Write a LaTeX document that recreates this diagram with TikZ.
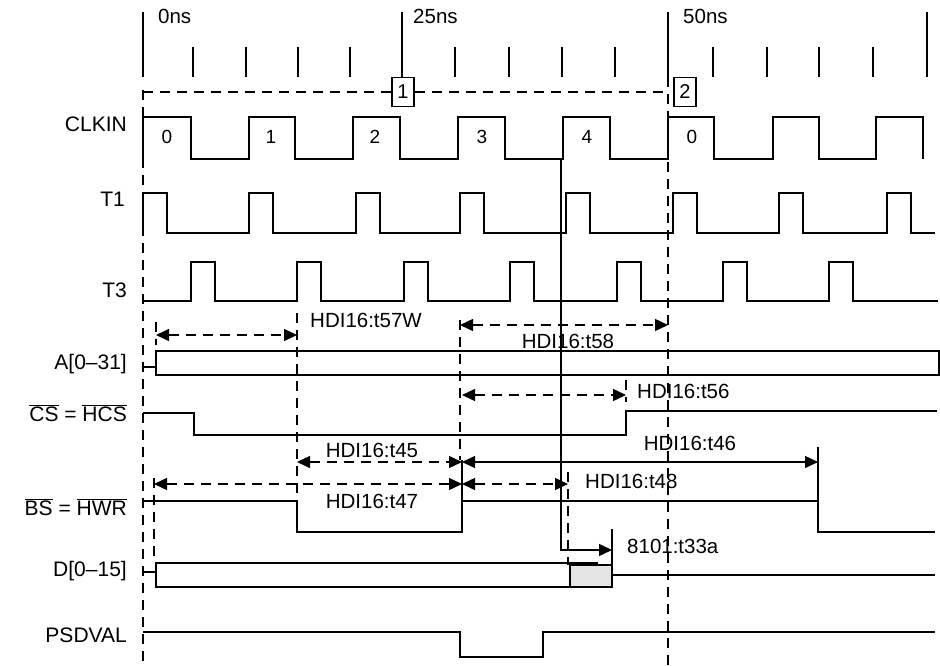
\documentclass[tikz,border=0pt]{standalone}
\usepackage{fontspec}
\setmainfont{Liberation Sans}
\usetikzlibrary{arrows.meta}
\newcommand{\ovl}[1]{$\overline{\mbox{#1}}$}

\begin{document}
\begin{tikzpicture}[x=1pt, y=-1pt,
			sig/.style={line width=1.4pt},
			guide/.style={line width=1.4pt, dash pattern=on 10pt off 7pt},
			tmarr/.style={guide, {Triangle[length=13pt, width=12pt]}-{Triangle[length=13pt, width=12pt]}},
			solarr/.style={sig, {Triangle[length=13pt, width=12pt]}-{Triangle[length=13pt, width=12pt]}},
			lbl/.style={anchor=base east, inner sep=0pt, font=\fontsize{21}{25}\selectfont},
			tlbl/.style={anchor=base, inner sep=0pt, font=\fontsize{20.5}{24}\selectfont},
			clknum/.style={anchor=base, inner sep=0pt, font=\fontsize{19}{22}\selectfont},
			marker/.style={draw, line width=1.4pt, fill=white, inner sep=0pt, minimum width=22pt, minimum height=29pt, font=\fontsize{20}{24}\selectfont}]
			\useasboundingbox (0,0) rectangle (940,665);
			% time ruler
			\foreach \x in {143,402,668,927} \draw[sig] (\x,12) -- (\x,77);
			\foreach \x in {193,246,298,350,455,509,562,615,713,767,819,873} \draw[sig] (\x,47) -- (\x,77);
			\node[tlbl, anchor=base west] (ns0) at (158,23) {0ns};
			\node[tlbl, anchor=base west] (ns25) at (413,23) {25ns};
			\node[tlbl, anchor=base west] (ns50) at (683,23) {50ns};
			% cycle guides
			\draw[guide] (143,90) -- (143,665);
			\draw[guide] (668,77) -- (668,665);
			\draw[guide] (143,92) -- (668,92);
			\node[marker] (mk1) at (403,92) {1};
			\node[marker] (mk2) at (685,92) {2};
			% signal names
			\node[lbl] (clkin) at (127,131) {CLKIN};
			\node[lbl] (tone) at (125,206) {T1};
			\node[lbl] (tthree) at (127,297) {T3};
			\node[lbl] (abus) at (127,369) {A[0--31]};
			\node[lbl] (cs) at (127,421) {\ovl{CS} = \ovl{HCS}};
			\node[lbl] (bs) at (127,515) {\ovl{BS} = \ovl{HWR}};
			\node[lbl] (dbus) at (127,576) {D[0--15]};
			\node[lbl] (psdval) at (127,642) {PSDVAL};
			% CLKIN
			\draw[sig] (143,159) \foreach \r/\f in {143/191,249/295,353/400,458/505,563/610,668/714,773/819,876/923}
				{ -- (\r,159) -- (\r,117) -- (\f,117) -- (\f,159) };
			\foreach \x/\n in {167/0,271/1,375/2,482/3,587/4,692/0} \node[clknum] (cyc\x) at (\x,143) {\n};
			% T1
			\draw[sig] (143,233) \foreach \r in {143,249,356,460,566,673,779,887}
				{ -- (\r,233) -- (\r,193) -- (\r+24,193) -- (\r+24,233) } -- (935,233);
			% T3
			\draw[sig] (143,301) \foreach \r in {191,297,404,510,617,723,829}
				{ -- (\r,301) -- (\r,262) -- (\r+24,262) -- (\r+24,301) } -- (938,301);
			% A[0-31]
			\draw[sig] (143,367) -- (157,367);
			\draw[sig] (156,351) rectangle (939,375);
			% CS = HCS
			\draw[sig] (143,413) -- (194,413) -- (194,435) -- (626,435) -- (626,411) -- (937,411);
			% BS = HWR
			\draw[sig] (143,501) -- (297,501) -- (297,532) -- (462,532) -- (462,460);
			\draw[sig] (462,501) -- (818,501);
			\draw[sig] (818,447) -- (818,532) -- (935,532);
			% D[0-15]
			\draw[sig] (143,572) -- (157,572);
			\draw[sig] (598,563) -- (156,563) -- (156,587) -- (570,587);
			\draw[sig, fill=gray!20] (570,565) rectangle (612,587);
			\draw[sig] (612,575) -- (935,575);
			\draw[sig] (612,529) -- (612,575);
			% PSDVAL
			\draw[sig] (143,632) -- (460,632) -- (460,657) -- (543,657) -- (543,632) -- (935,632);
			% timing guides
			\draw[guide] (297,313) -- (297,501);
			\draw[guide] (460,320) -- (460,460);
			\draw[guide] (156,322) -- (156,345);
			\draw[guide] (154,478) -- (154,560);
			\draw[guide] (626,380) -- (626,402);
			\draw[guide] (568,472) -- (568,565);
			% timing arrows
			\draw[tmarr] (156,335) -- (297,335);
			\node[tlbl, anchor=base west] (t57w) at (310,327) {HDI16:t57W};
			\draw[tmarr] (460,325) -- (668,325);
			\node[tlbl] (t58) at (568,348) {HDI16:t58};
			\draw[tmarr] (462,395) -- (626,395);
			\node[tlbl, anchor=base west] (t56) at (637,398) {HDI16:t56};
			\draw[tmarr] (297,462) -- (462,462);
			\node[tlbl] (t45) at (372,457) {HDI16:t45};
			\draw[solarr] (462,462) -- (818,462);
			\node[tlbl] (t46) at (690,450) {HDI16:t46};
			\draw[tmarr] (154,484) -- (462,484);
			\node[tlbl] (t47) at (372,508) {HDI16:t47};
			\draw[tmarr] (462,484) -- (568,484);
			\node[tlbl, anchor=base west] (t48) at (585,488) {HDI16:t48};
			\draw[sig, -{Triangle[length=13pt, width=12pt]}] (561,160) -- (561,550) -- (612,550);
			\node[tlbl, anchor=base west] (t33a) at (627,553) {8101:t33a};
		\end{tikzpicture}
\end{document}
